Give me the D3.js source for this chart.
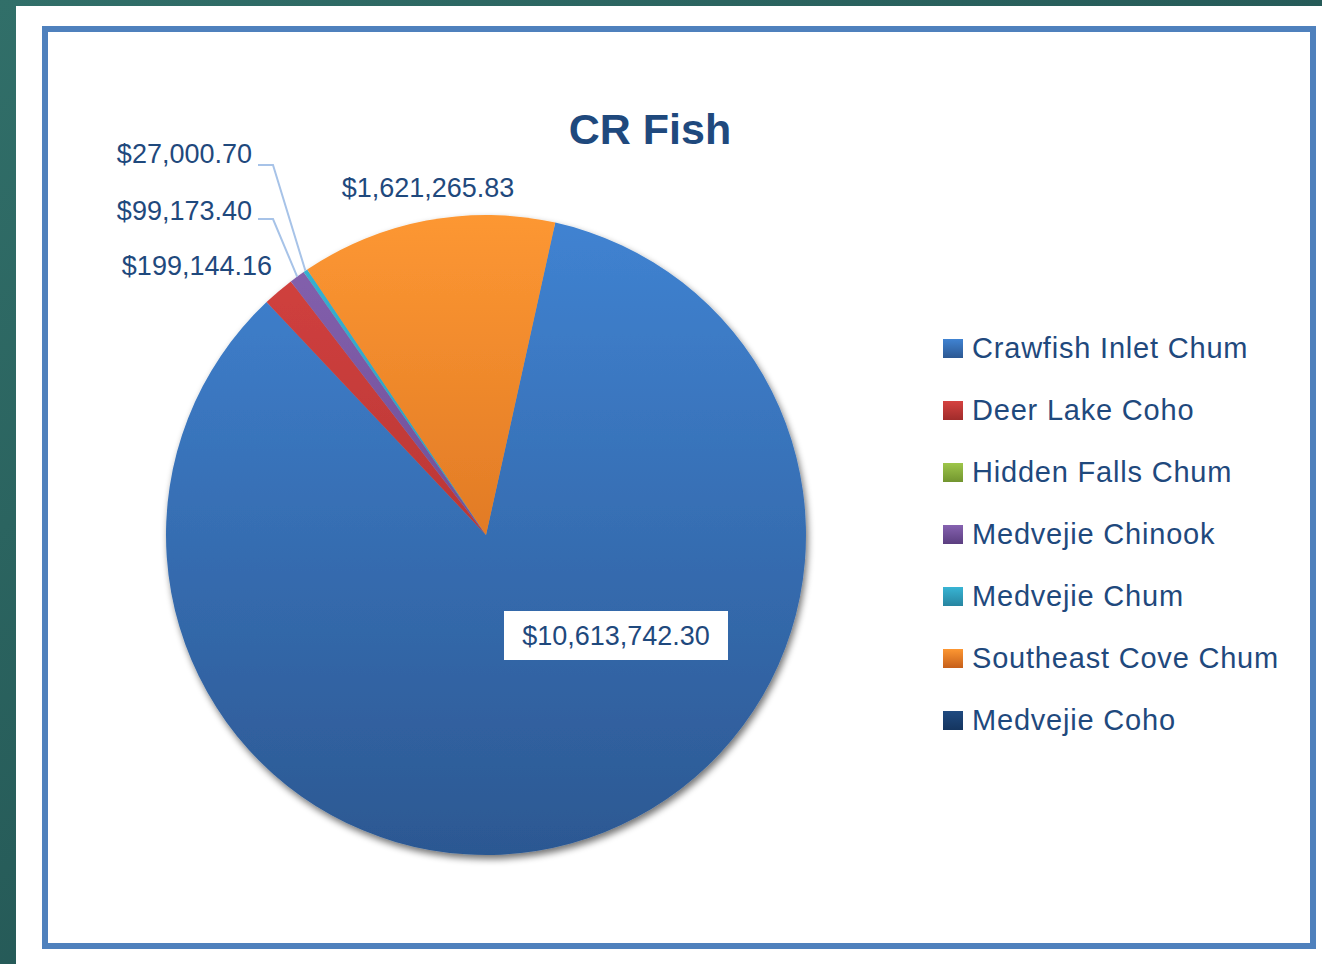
<!DOCTYPE html>
<html><head><meta charset="utf-8">
<script src="https://cdn.jsdelivr.net/npm/d3@7"></script>
<style>html,body{margin:0;padding:0;background:#fff;}svg{display:block;}</style>
</head><body>
<svg id="chart" width="1322" height="964"></svg>
<script>
const title = "CR Fish";
const categories = ["Crawfish Inlet Chum","Deer Lake Coho","Hidden Falls Chum","Medvejie Chinook","Medvejie Chum","Southeast Cove Chum","Medvejie Coho"];
const values = [10613742.30, 199144.16, 0, 99173.40, 27000.70, 1621265.83, 0];
const topColors = ["#4083d2","#d54240","#9ec64a","#8662b0","#38b4d4","#fd9732","#1f4a80"];
const bottomColors = ["#2c5892","#a02c2b","#72952f","#5b3e80","#2785a0","#c65f1a","#15355f"];

const svg = d3.select("#chart");
const W = 1322, H = 964;
const defs = svg.append("defs");

// background
const bg = defs.append("linearGradient").attr("id","bg").attr("x1","0").attr("y1","0").attr("x2","1").attr("y2","1");
bg.append("stop").attr("offset","0").attr("stop-color","#316f69");
bg.append("stop").attr("offset","1").attr("stop-color","#1b4748");
svg.append("rect").attr("width",W).attr("height",H).attr("fill","url(#bg)");
svg.append("rect").attr("x",16).attr("y",6).attr("width",W-16).attr("height",H-6).attr("fill","#fff");
svg.append("rect").attr("x",45).attr("y",29).attr("width",1268).attr("height",917)
  .attr("fill","#fff").attr("stroke","#4f81bd").attr("stroke-width",6);

// title
svg.append("text").attr("x",650).attr("y",144).attr("text-anchor","middle")
  .attr("font-family","Liberation Sans, Arial, sans-serif").attr("font-weight","bold")
  .attr("font-size",43).attr("fill","#1f497d").text(title);

// pie
const cx = 486, cy = 535, R = 320;
const rot = 12.5 * Math.PI/180;
const pie = d3.pie().sort(null).value(d=>d).startAngle(rot).endAngle(rot+2*Math.PI);
const arcs = pie(values);
const arc = d3.arc().innerRadius(0).outerRadius(R);

// gradient runs over the whole pie (local coords of the translated paths)
const y = d3.scaleLinear().domain([0,1]).range([-R,R]);
categories.forEach((c,i)=>{
  const g = defs.append("linearGradient").attr("id","g"+i).attr("gradientUnits","userSpaceOnUse")
    .attr("x1",0).attr("x2",0).attr("y1",y(0)).attr("y2",y(1));
  g.append("stop").attr("offset","0").attr("stop-color",topColors[i]);
  g.append("stop").attr("offset","1").attr("stop-color",bottomColors[i]);
  const lg = defs.append("linearGradient").attr("id","lg"+i).attr("x1",0).attr("x2",0).attr("y1",0).attr("y2",1);
  lg.append("stop").attr("offset","0").attr("stop-color",topColors[i]);
  lg.append("stop").attr("offset","1").attr("stop-color",bottomColors[i]);
});

const f = defs.append("filter").attr("id","shadow").attr("x","-10%").attr("y","-10%").attr("width","120%").attr("height","120%");
f.append("feGaussianBlur").attr("in","SourceAlpha").attr("stdDeviation",3.5).attr("result","b");
f.append("feOffset").attr("in","b").attr("dx",2).attr("dy",4).attr("result","o");
f.append("feComponentTransfer").attr("in","o").attr("result","o2").append("feFuncA").attr("type","linear").attr("slope",0.55);
const fm = f.append("feMerge");
fm.append("feMergeNode").attr("in","o2");
fm.append("feMergeNode").attr("in","SourceGraphic");

const pg = svg.append("g").attr("filter","url(#shadow)").attr("transform",`translate(${cx},${cy})`);
pg.selectAll("path").data(arcs).join("path")
  .attr("d",arc)
  .attr("fill",(d,i)=>`url(#g${i})`);

// labels
const fmt = v => "$" + d3.format(",.2f")(v);
const labelFont = "Liberation Sans, Arial, sans-serif";
const labelColor = "#1f497d";
const labelLayout = [
  {i:0, dx:130, dy:101, anchor:"middle", box:true},
  {i:1, dx:-214, dy:-269, anchor:"end"},
  {i:3, dx:-234, dy:-324, anchor:"end", leader:true, ly:-316},
  {i:4, dx:-234, dy:-381, anchor:"end", leader:true, ly:-370},
  {i:5, dx:-58, dy:-347, anchor:"middle"}
];
const lg2 = svg.append("g");
labelLayout.forEach(L=>{
  const d = arcs[L.i];
  const t = fmt(values[L.i]);
  const tx = cx + L.dx, ty = cy + L.dy;
  if (L.box) {
    lg2.append("rect").attr("x",tx-112).attr("y",ty-25).attr("width",224).attr("height",49).attr("fill","#fff");
  }
  if (L.leader) {
    const mid = (d.startAngle+d.endAngle)/2;
    const ex = cx + R*Math.sin(mid), ey = cy - R*Math.cos(mid);
    const sx = tx + 6, yy = cy + L.ly;
    lg2.append("path").attr("d",`M${sx},${yy}H${sx+15}L${ex},${ey}`)
      .attr("fill","none").attr("stroke","#a7c3e8").attr("stroke-width",2);
  }
  lg2.append("text").attr("x",tx).attr("y",ty).attr("dy","0.35em")
    .attr("text-anchor",L.anchor).attr("font-family",labelFont).attr("font-size",27)
    .attr("fill",labelColor).text(t);
});

// legend
const leg = svg.append("g");
const ly = d3.scalePoint().domain(categories).range([348,720]);
categories.forEach((c,i)=>{
  leg.append("rect").attr("x",943).attr("y",ly(c)-9).attr("width",20).attr("height",19).attr("fill",`url(#lg${i})`);
  leg.append("text").attr("x",972).attr("y",ly(c)).attr("dy","0.36em")
    .attr("font-family",labelFont).attr("font-size",29).attr("letter-spacing",0.8)
    .attr("fill",labelColor).text(c);
});
</script>
</body></html>
